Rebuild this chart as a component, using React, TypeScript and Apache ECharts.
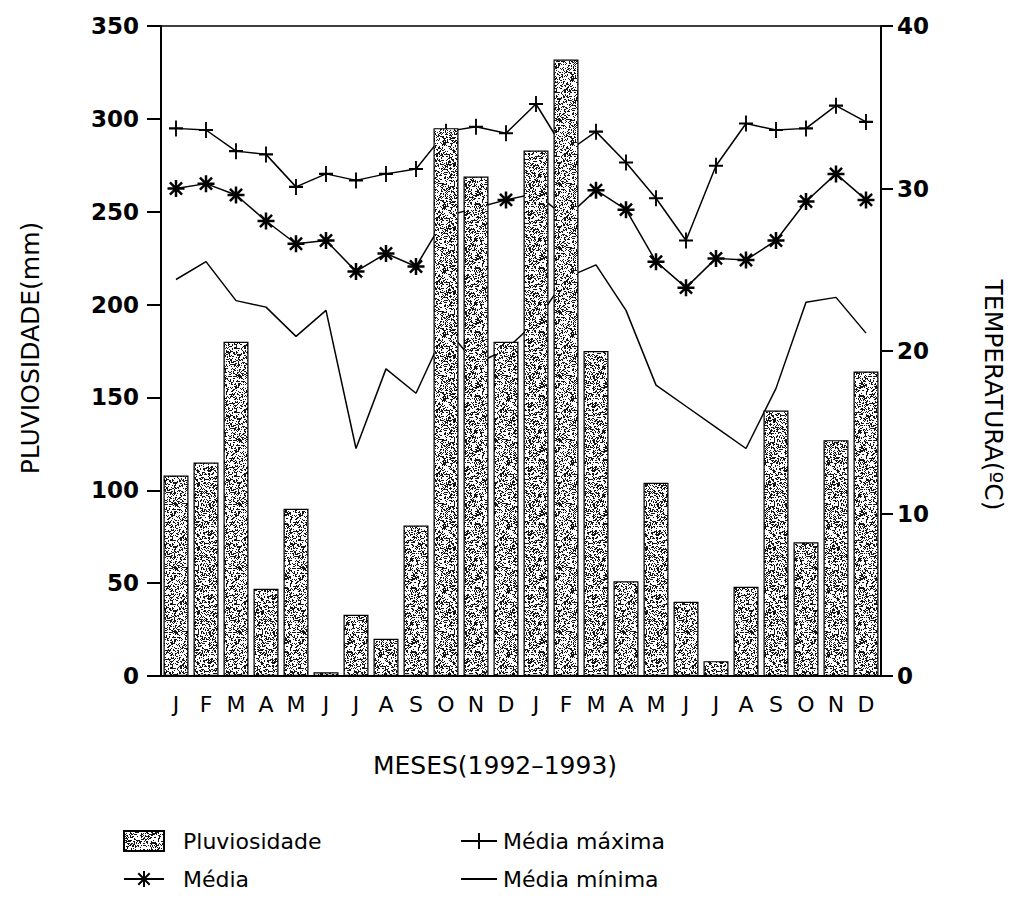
import React, { useEffect, useRef } from "react";
import * as echarts from "echarts";

// Months of 1992 and 1993
const months = ["J", "F", "M", "A", "M", "J", "J", "A", "S", "O", "N", "D", "J", "F", "M", "A", "M", "J", "J", "A", "S", "O", "N", "D"];

// Monthly rainfall (mm)
const rainfall = [108, 115, 180, 47, 90, 2, 33, 20, 81, 295, 269, 180, 283, 332, 175, 51, 104, 40, 8, 48, 143, 72, 127, 164];

// Temperatures (ºC)
const tempMax = [33.7, 33.6, 32.3, 32.1, 30.1, 30.9, 30.5, 30.9, 31.2, 33.5, 33.8, 33.4, 35.2, 32.2, 33.5, 31.6, 29.4, 26.8, 31.4, 34.0, 33.6, 33.7, 35.1, 34.1];
const tempMean = [30.0, 30.3, 29.6, 28.0, 26.6, 26.8, 24.9, 26.0, 25.2, 28.3, 28.8, 29.3, 29.7, 28.2, 29.9, 28.7, 25.5, 23.9, 25.7, 25.6, 26.8, 29.2, 30.9, 29.3];
const tempMin = [24.4, 25.5, 23.1, 22.7, 20.9, 22.5, 14.0, 18.9, 17.4, 21.4, 19.2, 20.1, 21.8, 24.5, 25.3, 22.5, 17.9, 16.6, 15.3, 14.0, 17.7, 23.0, 23.3, 21.1];

const rainTicks = { min: 0, max: 350, interval: 50 };
const tempTicks = { min: 0, max: 40, interval: 10 };

const PLUS = "path://M7,0L7,16M0,8L14,8";
const ASTERISK = "path://M8,0L8,16M0,8L16,8M2.3,2.3L13.7,13.7M13.7,2.3L2.3,13.7";

// Fine stippled texture for the rainfall bars (deterministic xorshift noise)
function makeStipple(): HTMLCanvasElement {
  const size = 64;
  const c = document.createElement("canvas");
  c.width = size;
  c.height = size;
  const ctx = c.getContext("2d")!;
  ctx.fillStyle = "#ffffff";
  ctx.fillRect(0, 0, size, size);
  ctx.fillStyle = "#151515";
  let s = 2463534242;
  const next = () => {
    s ^= s << 13;
    s ^= s >>> 17;
    s ^= s << 5;
    return (s >>> 0) % 1000;
  };
  for (let y = 0; y < size; y++) {
    for (let x = 0; x < size; x++) {
      const v = next();
      if (v < 300) ctx.fillRect(x, y, 1, 1);
      else if (v < 340) ctx.fillRect(x, y, 2, 1);
    }
  }
  return c;
}

const FONT = "DejaVu Sans";

export default function App() {
  const ref = useRef<HTMLDivElement>(null);

  useEffect(() => {
    if (!ref.current) return;
    const chart = echarts.init(ref.current, undefined, { renderer: "svg" });
    const tex = makeStipple();
    const stipple: any = { image: tex, repeat: "repeat", imageWidth: tex.width, imageHeight: tex.height };

    const axisLine = { show: true, lineStyle: { color: "#000", width: 2 } };

    chart.setOption({
      animation: false,
      backgroundColor: "#fff",
      grid: {
        left: 161,
        right: 144,
        top: 26,
        bottom: 241,
        show: true,
        borderColor: "#000",
        borderWidth: 1.5,
        backgroundColor: "transparent",
      },
      xAxis: {
        type: "category",
        data: months,
        boundaryGap: true,
        axisLine,
        axisTick: { show: false },
        axisLabel: { color: "#000", fontSize: 22, fontFamily: FONT, margin: 17, interval: 0 },
      },
      yAxis: [
        {
          type: "value",
          ...rainTicks,
          position: "left",
          axisLine,
          axisTick: { show: true, length: 14, inside: false, lineStyle: { color: "#000", width: 2 } },
          axisLabel: { color: "#000", fontSize: 23, fontWeight: "bold", fontFamily: FONT, margin: 22 },
          splitLine: { show: false },
        },
        {
          type: "value",
          ...tempTicks,
          position: "right",
          axisLine,
          axisTick: { show: true, length: 12, inside: false, lineStyle: { color: "#000", width: 2 } },
          axisLabel: { color: "#000", fontSize: 23, fontWeight: "bold", fontFamily: FONT, margin: 16 },
          splitLine: { show: false },
        },
      ],
      legend: [
        {
          orient: "vertical",
          left: 118,
          top: 825,
          itemWidth: 40,
          itemHeight: 20,
          itemGap: 16,
          data: [{ name: "Pluviosidade", icon: "rect" }, { name: "Média" }],
          textStyle: { color: "#000", fontSize: 22, fontFamily: FONT, padding: [0, 0, 0, 14] },
        },
        {
          orient: "vertical",
          left: 455,
          top: 825,
          itemWidth: 36,
          itemHeight: 20,
          itemGap: 16,
          data: ["Média máxima", "Média mínima"],
          textStyle: { color: "#000", fontSize: 22, fontFamily: FONT, padding: [0, 0, 0, 1] },
        },
      ],
      graphic: [
        {
          type: "text",
          x: 30,
          y: 348,
          rotation: Math.PI / 2,
          style: { text: "PLUVIOSIDADE(mm)", fontSize: 25, fontFamily: FONT, fill: "#000", textAlign: "center", textVerticalAlign: "middle" },
        },
        {
          type: "text",
          x: 993,
          y: 395,
          rotation: -Math.PI / 2,
          style: { text: "TEMPERATURA(ºC)", fontSize: 25, fontFamily: FONT, fill: "#000", textAlign: "center", textVerticalAlign: "middle" },
        },
        {
          type: "text",
          x: 495,
          y: 765,
          style: { text: "MESES(1992–1993)", fontSize: 25, fontFamily: FONT, fill: "#000", textAlign: "center", textVerticalAlign: "middle" },
        },
      ],
      series: [
        {
          name: "Pluviosidade",
          type: "bar",
          yAxisIndex: 0,
          data: rainfall,
          barWidth: 25,
          z: 3,
          itemStyle: { color: stipple, borderColor: "#000", borderWidth: 1.2 },
        },
        {
          name: "Média máxima",
          type: "line",
          yAxisIndex: 1,
          data: tempMax,
          z: 2,
          symbol: PLUS,
          symbolSize: [14, 16],
          lineStyle: { color: "#000", width: 1.5 },
          itemStyle: { color: "#000", borderColor: "#000", borderWidth: 2 },
        },
        {
          name: "Média",
          type: "line",
          yAxisIndex: 1,
          data: tempMean,
          z: 2,
          symbol: ASTERISK,
          symbolSize: 17,
          lineStyle: { color: "#000", width: 1.5 },
          itemStyle: { color: "#000", borderColor: "#000", borderWidth: 2.5 },
        },
        {
          name: "Média mínima",
          type: "line",
          yAxisIndex: 1,
          data: tempMin,
          z: 2,
          symbol: "circle",
          showSymbol: false,
          lineStyle: { color: "#000", width: 1.5 },
          itemStyle: { color: "rgba(0,0,0,0)", borderWidth: 0 },
        },
      ],
    });

    return () => chart.dispose();
  }, []);

  return <div ref={ref} style={{ position: "absolute", left: 0, top: 0, width: 1025, height: 917 }} />;
}
